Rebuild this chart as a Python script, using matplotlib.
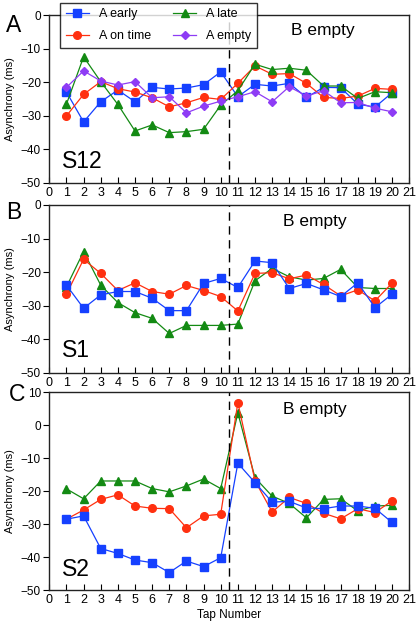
import numpy as np
import matplotlib
matplotlib.use("Agg")
import matplotlib.pyplot as plt

plt.rcParams['font.family'] = ['Liberation Sans', 'DejaVu Sans']

taps = np.arange(1, 21)

# Panel A (S12)
a_early = [-22.9, -31.8, -25.8, -22.3, -25.8, -21.5, -22.0, -21.7, -20.7, -16.9,
           -24.3, -20.6, -21.1, -20.3, -24.5, -21.5, -21.6, -26.5, -27.4, -23.1]
a_late = [-26.5, -12.4, -19.8, -26.6, -34.5, -32.7, -35.0, -34.7, -34.0, -26.8,
          -22.5, -14.6, -16.2, -15.8, -16.4, -21.1, -21.1, -24.8, -22.8, -23.1]
a_ontime = [-30.0, -23.6, -19.8, -21.9, -22.9, -24.6, -27.3, -26.1, -24.5, -25.1,
            -20.3, -15.1, -17.6, -17.4, -20.3, -24.5, -24.8, -24.1, -21.8, -22.1]
a_empty = [-21.5, -16.6, -19.6, -20.8, -19.8, -24.6, -24.3, -29.1, -27.1, -25.6,
           -24.3, -22.8, -25.8, -21.3, -24.1, -22.5, -26.1, -26.0, -27.7, -28.8]

# Panel B (S1)
b_early = [-23.9, -30.8, -26.8, -25.8, -25.8, -27.8, -31.5, -31.5, -23.4, -21.9,
           -24.6, -16.7, -17.2, -24.9, -23.4, -25.3, -27.3, -23.2, -30.6, -26.6]
b_late = [-24.4, -13.9, -23.9, -29.1, -32.1, -33.8, -38.3, -35.9, -35.9, -35.9,
          -35.5, -22.6, -18.9, -21.4, -22.4, -21.9, -19.2, -24.6, -24.9, -24.9]
b_ontime = [-26.6, -16.2, -20.4, -25.5, -23.2, -25.8, -26.6, -24.0, -25.5, -27.3,
            -31.6, -20.4, -20.2, -22.0, -20.9, -23.7, -27.1, -25.3, -28.6, -23.3]

# Panel C (S2)
c_early = [-28.5, -27.5, -37.4, -38.9, -40.9, -41.7, -44.7, -41.2, -42.9, -40.2,
           -11.5, -17.4, -23.3, -23.1, -25.1, -25.3, -24.5, -24.5, -25.2, -29.5]
c_late = [-19.3, -22.3, -16.9, -16.9, -16.9, -19.2, -20.2, -18.4, -16.3, -19.2,
          3.8, -15.9, -21.5, -23.7, -28.1, -22.5, -22.3, -26.0, -24.5, -24.3]
c_ontime = [-28.5, -25.7, -22.5, -21.1, -24.5, -25.2, -25.3, -31.1, -27.5, -27.0,
            6.9, -16.8, -26.3, -21.9, -23.7, -26.7, -28.4, -25.3, -26.5, -22.9]

blue = '#1540ff'
red = '#ff3010'
green = '#138a13'
purple = '#8e3cf5'

fig = plt.figure(figsize=(4.19, 6.26), dpi=100)
axA = fig.add_axes([0.1177, 0.7077, 0.859, 0.268])
axB = fig.add_axes([0.1177, 0.4046, 0.859, 0.268])
axC = fig.add_axes([0.1177, 0.0575, 0.859, 0.3157])

def series(ax, y, color, marker, label, ms=5.5):
    ax.plot(taps, y, color=color, marker=marker, ms=ms, lw=0.9,
            markeredgecolor=color, label=label)

series(axA, a_early, blue, 's', 'A early')
series(axA, a_ontime, red, 'o', 'A on time')
series(axA, a_late, green, '^', 'A late')
series(axA, a_empty, purple, 'D', 'A empty', ms=4)

series(axB, b_late, green, '^', 'A late')
series(axB, b_ontime, red, 'o', 'A on time')
series(axB, b_early, blue, 's', 'A early')

series(axC, c_late, green, '^', 'A late')
series(axC, c_ontime, red, 'o', 'A on time')
series(axC, c_early, blue, 's', 'A early')

# (axes, subject, y top, subject y, B-empty x, B-empty y)
panels = [(axA, 'S12', 0, 0.09, 0.76, 0.91),
          (axB, 'S1', 0, 0.095, 0.738, 0.90),
          (axC, 'S2', 10, 0.072, 0.738, 0.915)]
for ax, sub, ytop, sy, bx, by in panels:
    ax.axvline(10.5, color='black', ls=(0, (6, 4)), lw=1)
    ax.set_xlim(0, 21)
    ax.set_ylim(-50, ytop)
    ax.set_xticks(range(0, 22))
    ax.set_yticks(range(-50, ytop + 1, 10))
    ax.tick_params(axis='x', direction='in', length=4, width=0.8, labelsize=9, pad=3)
    ax.tick_params(axis='y', direction='out', length=4, width=0.8, labelsize=8.5, pad=2)
    for s in ax.spines.values():
        s.set_linewidth(1)
        s.set_color('#222222')
    ax.set_ylabel('Asynchrony (ms)', fontsize=8, labelpad=4)
    ax.text(0.035, sy, sub, transform=ax.transAxes, fontsize=16.5,
            ha='left', va='baseline')
    ax.text(bx, by, 'B empty', transform=ax.transAxes, fontsize=12.5,
            ha='center', va='center')

axC.set_xlabel('Tap Number', fontsize=8.5, labelpad=2)

fig.text(0.015, 0.949, 'A', fontsize=16.5, ha='left', va='baseline')
fig.text(0.015, 0.650, 'B', fontsize=16.5, ha='left', va='baseline')
fig.text(0.022, 0.360, 'C', fontsize=16.5, ha='left', va='baseline')

h, l = axA.get_legend_handles_labels()
leg = fig.legend(h, l, ncol=2, loc='upper left',
                 bbox_to_anchor=(0.143, 0.9955), fontsize=9,
                 frameon=True, fancybox=False, edgecolor='black',
                 handlelength=1.9, handletextpad=0.8, columnspacing=1.7,
                 labelspacing=0.8, borderpad=0.45, borderaxespad=0)
leg.get_frame().set_linewidth(1)

fig.savefig('out.png', dpi=100)
